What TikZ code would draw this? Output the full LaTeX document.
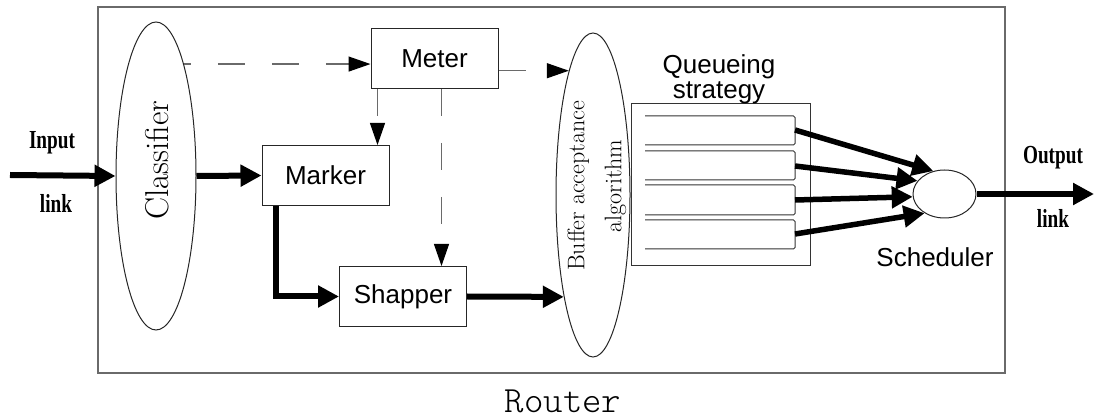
\documentclass[tikz,border=0pt]{standalone}
\usepackage{fontspec}
\usepackage{graphicx}
\usetikzlibrary{arrows.meta,shapes.geometric}
\newfontfamily\sansfnt{Liberation Sans}
\newfontfamily\timesfnt{Liberation Serif}
\newfontfamily\monolight{Latin Modern Mono Light}
\definecolor{linegray}{HTML}{6A6A6A}
\tikzset{
  box/.style={draw=black!85, line width=1pt, inner sep=0pt, minimum width=127pt, minimum height=60pt,
    font=\sansfnt\fontsize{26}{30}\selectfont},
  oval/.style={draw=black!85, line width=1pt, ellipse, inner sep=0pt},
  flow/.style={line width=6pt, -{Triangle[length=21pt,width=21pt]}},
  ctrl/.style={draw=linegray, line width=1.2pt, dash pattern=on 27pt off 27pt,
    -{Triangle[length=22pt,width=15pt,color=black]}},
  slot/.style={draw=black!80, line width=1pt, rounded corners=1.5pt},
  linklbl/.style={inner sep=0pt, font=\timesfnt\bfseries\fontsize{26}{30}\selectfont},
  plain/.style={inner sep=0pt}
}
\begin{document}
\begin{tikzpicture}[x=1pt,y=-1pt]
\useasboundingbox (0,0) rectangle (1095,419);

% router frame
\draw[draw=linegray, line width=1.3pt] (98,7) rectangle (1005,373);
\node[plain, font=\monolight\fontsize{37}{40}\selectfont] (router) at (563,401) {Router};

% classifier and buffer acceptance ellipses
\node[oval, minimum width=80pt, minimum height=308pt] (cls) at (156,176) {};
\node[plain, rotate=90, font=\fontsize{33}{36}\selectfont] (clstext) at (157,160) {Classifier};
\node[oval, minimum width=74pt, minimum height=324pt] (buf) at (593,195) {};
\node[plain, rotate=90, align=center, font=\fontsize{24}{37}\selectfont] (buftext) at (597,186)
  {Buffer acceptance\\algorithm};

% processing blocks
\node[box] (meter) at (434.5,58.5) {Meter};
\node[box] (marker) at (325.5,175.5) {Marker};
\node[box] (shapper) at (403,296.5) {Shapper};

% queueing strategy
\node[draw=black!80, line width=1pt, minimum width=179pt, minimum height=162pt, inner sep=0pt]
  (queue) at (720.5,185) {};
\node[plain, align=center, font=\sansfnt\fontsize{26}{25}\selectfont] (qtext) at (719,79)
  {Queueing\\strategy};
\draw[slot] (645,116) -- (795,116) -- (795,145) -- (645,145);
\draw[slot] (645,151) -- (795,151) -- (795,180) -- (645,180);
\draw[slot] (645,185) -- (795,185) -- (795,215) -- (645,215);
\draw[slot] (645,220) -- (795,220) -- (795,249) -- (645,249);
\coordinate (q1) at (795,130);
\coordinate (q2) at (795,166);
\coordinate (q3) at (795,200);
\coordinate (q4) at (795,234);

% scheduler
\node[oval, minimum width=63pt, minimum height=48pt] (sched) at (944.5,194) {};
\node[plain, font=\sansfnt\fontsize{26}{30}\selectfont] (schedtext) at (935,257) {Scheduler};

% link labels
\node[linklbl] (inlbl) at (52,143) {\scalebox{0.74}[1]{Input}};
\node[linklbl] (inlink) at (56,203) {\scalebox{0.74}[1]{link}};
\node[linklbl] (outlbl) at (1053,158) {\scalebox{0.74}[1]{Output}};
\node[linklbl] (outlink) at (1053,218) {\scalebox{0.74}[1]{link}};
\coordinate (inend) at (10,175);
\coordinate (outend) at (1094,194);

% data path
\draw[flow] (inend) -- (cls.west);
\draw[flow] (cls.east) -- (marker.west);
\draw[flow, line join=miter] ([xshift=14pt]marker.south west) |- (shapper.west);
\draw[flow] (shapper.east) -- (buf.254.2);
\draw[flow, line width=5.5pt] (q1) -- (sched.116);
\draw[flow, line width=5.5pt] (q2) -- (sched.154);
\draw[flow, line width=5.5pt] (q3) -- (sched.185);
\draw[flow, line width=5.5pt] (q4) -- (sched.224);
\draw[flow] (sched.east) -- (outend);

% control path
\draw[ctrl, dash phase=20pt] (cls.76.7) -- (cls.76.7 -| meter.west);
\draw[ctrl] (meter.east |- buf.101.1) -- (buf.101.1);
\draw[ctrl] ([xshift=7pt]meter.south west) -- ([xshift=7pt]meter.south west |- marker.north);
\draw[ctrl] ([xshift=71pt]meter.south west) -- ([xshift=71pt]meter.south west |- shapper.north);
\end{tikzpicture}
\end{document}
